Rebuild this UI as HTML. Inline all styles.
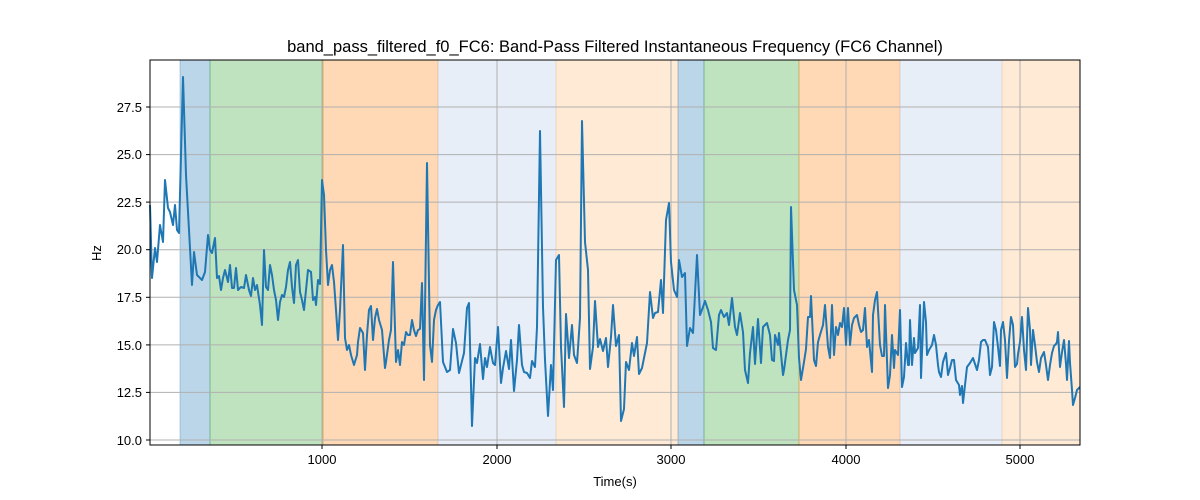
<!DOCTYPE html>
<html><head><meta charset="utf-8"><style>body{margin:0;background:#fff}svg{display:block;font-family:"Liberation Sans","DejaVu Sans",sans-serif}</style></head>
<body>
<svg width="1200" height="500" viewBox="0 0 1200 500" xmlns="http://www.w3.org/2000/svg">
<rect width="1200" height="500" fill="#fff"/>
<g stroke-width="1">
<rect x="180" y="60" width="30" height="385" fill="#1f77b4" fill-opacity="0.3" stroke="#1f77b4" stroke-opacity="0.3"/>
<rect x="210" y="60" width="113" height="385" fill="#2ca02c" fill-opacity="0.3" stroke="#2ca02c" stroke-opacity="0.3"/>
<rect x="323" y="60" width="115" height="385" fill="#ff7f0e" fill-opacity="0.3" stroke="#ff7f0e" stroke-opacity="0.3"/>
<rect x="438" y="60" width="118" height="385" fill="#aec7e8" fill-opacity="0.3" stroke="#aec7e8" stroke-opacity="0.3"/>
<rect x="556" y="60" width="122" height="385" fill="#ffbb78" fill-opacity="0.3" stroke="#ffbb78" stroke-opacity="0.3"/>
<rect x="678" y="60" width="26" height="385" fill="#1f77b4" fill-opacity="0.3" stroke="#1f77b4" stroke-opacity="0.3"/>
<rect x="704" y="60" width="95" height="385" fill="#2ca02c" fill-opacity="0.3" stroke="#2ca02c" stroke-opacity="0.3"/>
<rect x="799" y="60" width="101" height="385" fill="#ff7f0e" fill-opacity="0.3" stroke="#ff7f0e" stroke-opacity="0.3"/>
<rect x="900" y="60" width="102" height="385" fill="#aec7e8" fill-opacity="0.3" stroke="#aec7e8" stroke-opacity="0.3"/>
<rect x="1002" y="60" width="78" height="385" fill="#ffbb78" fill-opacity="0.3" stroke="#ffbb78" stroke-opacity="0.3"/>
</g>
<g stroke="#b0b0b0" stroke-width="1">
<line x1="322" y1="60" x2="322" y2="445"/><line x1="497" y1="60" x2="497" y2="445"/><line x1="671" y1="60" x2="671" y2="445"/><line x1="846" y1="60" x2="846" y2="445"/><line x1="1020" y1="60" x2="1020" y2="445"/>
<line x1="150" y1="440" x2="1080" y2="440"/><line x1="150" y1="392.4" x2="1080" y2="392.4"/><line x1="150" y1="344.9" x2="1080" y2="344.9"/><line x1="150" y1="297.3" x2="1080" y2="297.3"/><line x1="150" y1="249.7" x2="1080" y2="249.7"/><line x1="150" y1="202.1" x2="1080" y2="202.1"/><line x1="150" y1="154.6" x2="1080" y2="154.6"/><line x1="150" y1="107" x2="1080" y2="107"/>
</g>
<polyline fill="none" stroke="#1f77b4" stroke-width="2" stroke-linejoin="round" points="150,205 152,278 155,248 157,262 160,225 163,242 165,180 168,208 170,212 173,225 175,205 177,230 179,233 183,77 186,175 189,230 192,285 194,252 197,275 200,278 202,280 205,272 208,235 210,250 212,253 215,238 217,278 219,276 221,290 223,278 225,270 228,282 230,265 232,288 234,288 236,268 238,290 241,287 244,288 246,275 249,290 251,296 253,278 255,290 257,285 260,305 262,325 264,250 266,287 268,290 270,265 272,275 274,290 276,300 278,320 280,302 282,295 284,297 286,287 288,270 290,262 292,287 294,303 296,265 298,260 300,292 302,300 304,310 306,290 308,270 311,272 313,300 315,297 316,305 318,280 320,284 322,180 324,195 326,250 328,285 330,270 332,265 334,282 336,310 338,340 340,310 343,245 345,338 347,350 349,345 351,355 354,365 357,355 358,342 360,328 363,333 365,370 367,335 369,310 371,306 373,340 375,318 377,309 379,320 382,330 385,368 386,362 389,340 391,330 393,262 396,362 398,350 400,365 402,342 404,345 406,332 408,335 410,335 412,320 414,330 416,336 418,330 420,329 422,283 424,380 427,163 430,345 432,362 434,320 436,310 438,305 440,302 443,362 447,372 450,370 453,329 456,343 459,373 464,353 467,308 469,303 472,426 475,358 477,363 480,344 483,379 485,358 487,367 490,347 493,363 495,365 498,327 501,383 503,368 506,351 509,369 511,340 514,391 517,360 519,325 522,365 524,372 527,373 530,378 532,361 535,367 537,327 540,131 543,307 545,360 548,416 551,365 553,390 556,260 559,255 561,347 564,407 566,314 569,358 572,325 574,355 577,363 580,318 582,121 585,242 588,270 590,369 593,347 595,301 598,347 600,339 603,351 606,338 608,367 611,337 613,305 616,346 619,335 621,421 624,409 626,362 629,370 632,343 634,356 637,337 639,374 642,368 645,353 647,343 650,292 653,318 655,313 658,312 661,280 663,313 666,220 669,203 671,262 674,290 677,297 679,260 682,277 685,273 687,346 690,328 693,333 697,255 700,315 703,307 705,301 708,310 711,322 713,348 716,350 719,315 721,310 724,317 727,313 729,325 732,298 735,327 737,335 740,313 743,332 745,370 748,383 750,353 753,327 755,364 758,319 761,363 763,327 767,323 770,335 772,360 774,361 775,335 778,345 779,333 783,375 784,370 788,340 790,330 791,207 794,290 797,305 799,358 801,380 804,362 806,349 808,317 810,317 811,296 814,360 816,366 818,342 820,335 823,325 825,305 828,347 830,358 832,305 834,355 836,327 838,335 840,323 842,327 844,308 846,345 848,308 850,345 852,325 854,318 857,315 859,325 861,332 863,330 865,308 867,347 869,340 872,372 873,315 875,300 877,292 880,345 882,356 884,356 885,305 888,388 890,375 892,335 894,368 895,350 898,355 900,310 902,387 904,377 906,343 908,365 909,365 910,320 912,365 914,338 915,353 918,348 920,305 921,378 924,302 926,322 927,355 929,350 932,345 934,335 936,345 938,365 939,372 941,377 943,362 946,353 948,375 950,368 952,360 954,360 956,380 959,385 960,395 962,386 963,403 965,385 967,367 970,363 973,358 975,364 977,370 979,360 981,342 983,340 985,340 988,347 990,375 992,367 994,322 996,330 998,347 1000,366 1001,330 1003,322 1005,340 1007,378 1009,341 1011,317 1013,325 1015,367 1017,364 1018,354 1020,342 1022,317 1024,350 1026,370 1028,308 1030,330 1031,365 1033,330 1035,345 1037,362 1039,372 1041,358 1044,352 1046,365 1048,380 1050,365 1052,353 1054,346 1056,344 1057,342 1058,332 1060,367 1062,352 1064,340 1066,364 1067,380 1069,341 1070,363 1072,390 1073,405 1075,398 1077,390 1080,387"/>
<rect x="150" y="60" width="930" height="385" fill="none" stroke="#000" stroke-width="1"/>
<g stroke="#000" stroke-width="1">
<line x1="322" y1="445" x2="322" y2="449"/><line x1="497" y1="445" x2="497" y2="449"/><line x1="671" y1="445" x2="671" y2="449"/><line x1="846" y1="445" x2="846" y2="449"/><line x1="1020" y1="445" x2="1020" y2="449"/>
<line x1="146" y1="440" x2="150" y2="440"/><line x1="146" y1="392.4" x2="150" y2="392.4"/><line x1="146" y1="344.9" x2="150" y2="344.9"/><line x1="146" y1="297.3" x2="150" y2="297.3"/><line x1="146" y1="249.7" x2="150" y2="249.7"/><line x1="146" y1="202.1" x2="150" y2="202.1"/><line x1="146" y1="154.6" x2="150" y2="154.6"/><line x1="146" y1="107" x2="150" y2="107"/>
</g>
<g font-size="13" fill="#000" text-anchor="middle">
<text x="322" y="464">1000</text><text x="497" y="464">2000</text><text x="671" y="464">3000</text><text x="846" y="464">4000</text><text x="1020" y="464">5000</text>
<text x="615" y="486">Time(s)</text>
</g>
<g font-size="13" fill="#000" text-anchor="end">
<text x="142" y="445">10.0</text><text x="142" y="397">12.5</text><text x="142" y="350">15.0</text><text x="142" y="302">17.5</text><text x="142" y="254">20.0</text><text x="142" y="207">22.5</text><text x="142" y="159">25.0</text><text x="142" y="112">27.5</text>
</g>
<text x="101" y="253" font-size="13" text-anchor="middle" transform="rotate(-90 101 253)">Hz</text>
<text x="615" y="52" font-size="16.5" text-anchor="middle">band_pass_filtered_f0_FC6: Band-Pass Filtered Instantaneous Frequency (FC6 Channel)</text>
</svg>
</body></html>
